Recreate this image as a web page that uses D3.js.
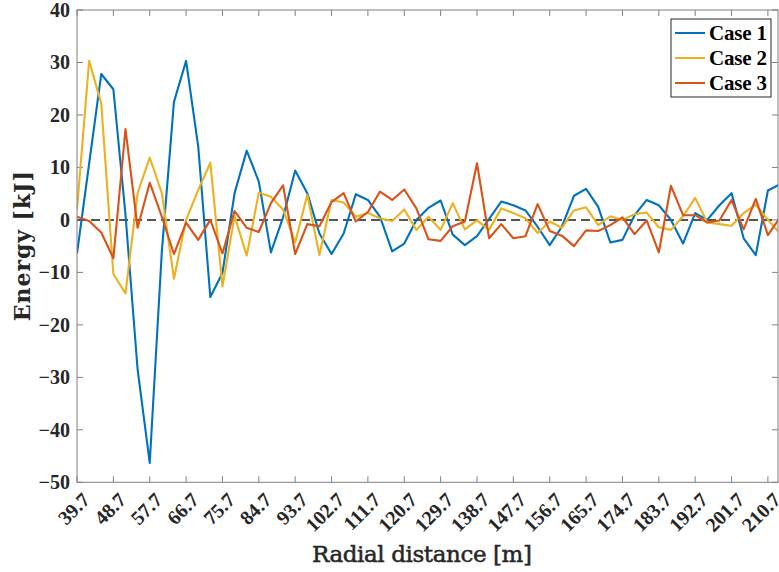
<!DOCTYPE html>
<html>
<head>
<meta charset="utf-8">
<script src="https://cdn.jsdelivr.net/npm/d3@7"></script>
<style>
  html, body { margin: 0; padding: 0; background: #fff; }
  svg { display: block; }
</style>
</head>
<body>
<div id="chart"></div>
<script>
// ---------- data ----------
const xStart = 39.7;
const xStep = 3;
const case1 = [-6.4, 10.7, 27.8, 24.9, 1, -28.5, -46.3, -6, 22.5, 30.3,
  14, -14.7, -10.1, 5.1, 13.2, 7.3, -6.2, 0.5, 9.4, 5.1,
  -2.6, -6.5, -2.6, 4.9, 3.8, 0.6, -6.0, -4.5, 0, 2.3,
  3.7, -2.8, -4.8, -3.1, 0.2, 3.5, 2.8, 1.8, -1.3, -4.8,
  -1.3, 4.6, 5.9, 2.5, -4.3, -3.8, 0.9, 3.8, 2.8, 0,
  -4.5, 1.3, 0, 2.8, 5.1, -3.5, -6.7, 5.6, 6.8];
const case2 = [2, 30.3, 22.2, -10.3, -14, 5.1, 11.9, 5.1, -11.2, 0,
  5.7, 10.9, -12.7, 0.8, -6.8, 5.2, 4.4, 2.0, -4.3, 4.8,
  -6.7, 3.8, 3.3, 0.6, 1.3, 0.3, -0.2, 2.0, -1.9, 0.6,
  -1.9, 3.2, -1.8, -0.1, -1.9, 2.2, 1.3, 0.3, -2.5, -0.3,
  -1.5, 1.8, 2.4, -1.0, 0.7, 0, 1.1, 1.4, -1.4, -1.9,
  0.7, 4.2, -0.5, -0.8, -1.1, 1.3, 2.9, 0, -2.6];
const case3 = [0.6, -0.2, -2.4, -7.3, 17.3, -1.5, 7.1, 0.6, -6.5, -0.5,
  -3.8, 0, -6.4, 1.7, -1.5, -2.3, 3.2, 6.6, -6.5, -0.8,
  -1.2, 3.4, 5.1, -0.3, 1.5, 5.4, 3.8, 5.8, 2.2, -3.7,
  -4.0, -1.2, -0.3, 10.8, -3.5, -0.8, -3.5, -3.1, 3.0, -2.1,
  -3.0, -5.0, -2.0, -2.1, -1.0, 0.5, -2.7, -0.1, -6.2, 6.5,
  0.9, 0.9, -0.5, -0.1, 3.8, -1.8, 4.0, -2.9, 0.5];
const seriesNames = ["Case 1", "Case 2", "Case 3"];
const seriesColors = ["#0072BD", "#EDB120", "#D95319"];
const xTicks = ["39.7", "48.7", "57.7", "66.7", "75.7", "84.7", "93.7", "102.7", "111.7", "120.7",
  "129.7", "138.7", "147.7", "156.7", "165.7", "174.7", "183.7", "192.7", "201.7", "210.7"];
const yTicks = [-50, -40, -30, -20, -10, 0, 10, 20, 30, 40];
const xLabel = "Radial distance [m]";
const yLabel = "Energy [kJ]";

// ---------- layout ----------
const W = 779, H = 572;
const L = 77, R = 778, T = 10, B = 482.3;
const xDomain = [39.7, 213.2];
const yDomain = [-50, 40];

const svg = d3.select("#chart").append("svg")
  .attr("width", W).attr("height", H)
  .style("font-family", "'Liberation Serif', 'Times New Roman', serif");

const x = d3.scaleLinear().domain(xDomain).range([L, R]);
const y = d3.scaleLinear().domain(yDomain).range([B, T]);

const xVals = case1.map((_, i) => +(xStart + i * xStep).toFixed(1));
const allSeries = [case1, case2, case3].map((vals, si) => ({
  name: seriesNames[si], color: seriesColors[si],
  points: vals.map((v, i) => ({ x: xVals[i], y: v }))
}));

svg.append("defs").append("clipPath").attr("id", "clip")
  .append("rect").attr("x", L).attr("y", T).attr("width", R - L).attr("height", B - T);

const axisColor = "#808080";
const tickLen = 6;

// y axis labels through d3 axis
const gy = svg.append("g").attr("transform", `translate(${L},0)`)
  .call(d3.axisLeft(y).tickValues(yTicks).tickSize(0).tickPadding(7).tickFormat(d3.format("d")));
gy.select(".domain").remove();
gy.selectAll("text")
  .attr("fill", "#262626")
  .style("font-size", "20px").style("font-weight", "bold")
  .style("font-family", "'Liberation Serif', serif");

// bottom axis via d3 (no labels; rotated labels drawn below)
const gx = svg.append("g").attr("transform", `translate(0,${B})`)
  .call(d3.axisBottom(x).tickValues(xTicks.map(Number)).tickSize(0).tickFormat(""));
gx.select(".domain").remove();

// tick marks (inward) on all four sides
const tickG = svg.append("g").attr("stroke", axisColor).attr("stroke-width", 1);
xTicks.map(Number).forEach(v => {
  tickG.append("line").attr("x1", x(v)).attr("x2", x(v)).attr("y1", B).attr("y2", B - tickLen);
  tickG.append("line").attr("x1", x(v)).attr("x2", x(v)).attr("y1", T).attr("y2", T + tickLen);
});
yTicks.forEach(v => {
  tickG.append("line").attr("x1", L).attr("x2", L + tickLen).attr("y1", y(v)).attr("y2", y(v));
  tickG.append("line").attr("x1", R).attr("x2", R - tickLen).attr("y1", y(v)).attr("y2", y(v));
});

// rotated x tick labels
const xl = svg.append("g");
xTicks.forEach(t => {
  xl.append("text")
    .attr("transform", `translate(${x(+t) + 9},${B + 14}) rotate(-45)`)
    .attr("text-anchor", "end")
    .attr("dy", "0.35em")
    .attr("fill", "#262626")
    .style("font-size", "20px").style("font-weight", "bold")
    .text(t);
});

// zero dashed line
svg.append("line")
  .attr("x1", L).attr("x2", R).attr("y1", y(0)).attr("y2", y(0))
  .attr("stroke", "#555555").attr("stroke-width", 2).attr("stroke-dasharray", "9,5");

// series lines
const line = d3.line().x(d => x(d.x)).y(d => y(d.y));
const lg = svg.append("g").attr("clip-path", "url(#clip)");
allSeries.forEach(s => {
  lg.append("path").datum(s.points)
    .attr("d", line)
    .attr("fill", "none")
    .attr("stroke", s.color)
    .attr("stroke-width", 2.1)
    .attr("stroke-linejoin", "round");
});

// box
svg.append("rect").attr("x", L).attr("y", T).attr("width", R - L).attr("height", B - T)
  .attr("fill", "none").attr("stroke", axisColor).attr("stroke-width", 1);

// legend
const legX = 671, legY = 19, legW = 100, legH = 78;
const leg = svg.append("g");
leg.append("rect").attr("x", legX).attr("y", legY).attr("width", legW).attr("height", legH)
  .attr("fill", "#fff").attr("stroke", "#262626").attr("stroke-width", 1);
allSeries.forEach((s, i) => {
  const cy = legY + 14 + i * 25;
  leg.append("line").attr("x1", legX + 4).attr("x2", legX + 34).attr("y1", cy).attr("y2", cy)
    .attr("stroke", s.color).attr("stroke-width", 2);
  leg.append("text").attr("x", legX + 38).attr("y", cy).attr("dy", "0.35em")
    .attr("fill", "#000")
    .style("font-size", "21px").style("font-weight", "bold")
    .attr("textLength", 58)
    .text(s.name);
});

// axis labels
svg.append("text")
  .attr("x", 422).attr("y", 562)
  .attr("text-anchor", "middle")
  .attr("fill", "#262626")
  .attr("stroke", "#262626").attr("stroke-width", 0.5)
  .style("font-size", "23px")
  .style("font-family", "'DejaVu Serif', serif")
  .attr("textLength", 220)
  .text(xLabel);
svg.append("text")
  .attr("transform", `translate(30,${(T + B) / 2}) rotate(-90)`)
  .attr("text-anchor", "middle")
  .attr("fill", "#262626")
  .style("font-size", "22px").style("font-weight", "bold")
  .style("font-family", "'DejaVu Serif', serif")
  .attr("textLength", 150)
  .text(yLabel);
</script>
</body>
</html>
